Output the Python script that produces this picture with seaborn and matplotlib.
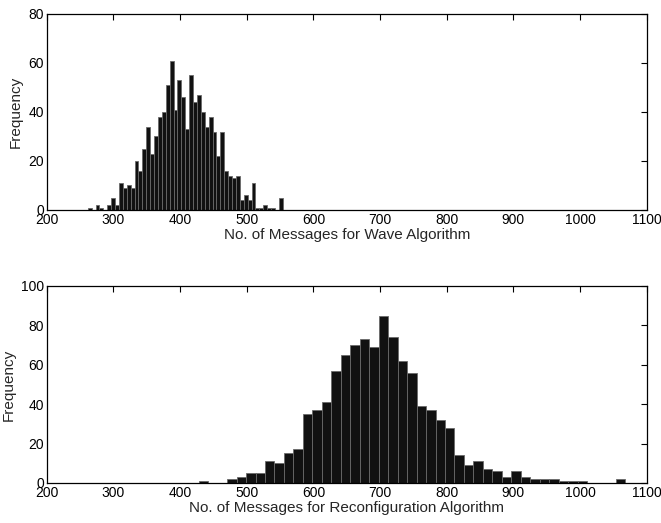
"""Histograms of message counts for the wave and reconfiguration algorithms."""

import matplotlib
matplotlib.use("Agg")
import matplotlib.pyplot as plt
import numpy as np
import pandas as pd
import seaborn as sns

# counts per bin
wave_counts = [
    1, 0, 2, 1, 0, 2, 5, 2, 11, 9,
    10, 9, 20, 16, 25, 34, 23, 30, 38, 40,
    51, 61, 41, 53, 46, 33, 55, 44, 47, 40,
    34, 38, 32, 22, 32, 16, 14, 13, 14, 4,
    6, 4, 11, 1, 1, 2, 1, 1, 0, 5,
]
wave_range = (261.5, 554.0)

reconf_counts = [
    1, 0, 0, 2, 3, 5, 5, 11, 10, 15,
    17, 35, 37, 41, 57, 65, 70, 73, 69, 85,
    74, 62, 56, 39, 37, 32, 28, 14, 9, 11,
    7, 6, 3, 6, 3, 2, 2, 2, 1, 1,
    1, 0, 0, 0, 2,
]
reconf_range = (427.9, 1067.4)

x_ticks = list(range(200, 1101, 100))
wave_yticks = [0, 20, 40, 60, 80]
reconf_yticks = [0, 20, 40, 60, 80, 100]

sns.set_style("white")
plt.rcParams["font.family"] = ["Liberation Sans", "DejaVu Sans"]


def draw_hist(ax, counts, value_range, yticks, xlabel):
    edges = np.linspace(value_range[0], value_range[1], len(counts) + 1)
    df = pd.DataFrame({
        "messages": (edges[:-1] + edges[1:]) / 2,
        "count": counts,
    })
    sns.histplot(
        data=df,
        x="messages",
        weights="count",
        bins=list(edges),
        color="#111111",
        edgecolor="#6a6a6a",
        linewidth=0.6,
        alpha=1,
        ax=ax,
    )
    ax.set_xlim(x_ticks[0], x_ticks[-1])
    ax.set_ylim(yticks[0], yticks[-1])
    ax.set_xticks(x_ticks)
    ax.set_yticks(yticks)
    ax.set_xlabel(xlabel, fontsize=11, labelpad=1)
    ax.set_ylabel("Frequency", fontsize=11, labelpad=4)
    ax.tick_params(
        direction="in", top=True, right=True, length=4.5, width=0.8,
        labelsize=10, pad=2, colors="black",
    )
    for spine in ax.spines.values():
        spine.set_visible(True)
        spine.set_color("black")
        spine.set_linewidth(0.9)


fig, (ax1, ax2) = plt.subplots(2, 1, figsize=(6.61, 5.23), dpi=100)
ax1.set_position([0.0707, 0.5985, 0.9077, 0.3748])
ax2.set_position([0.0707, 0.0765, 0.9077, 0.3767])

draw_hist(ax1, wave_counts, wave_range, wave_yticks,
          "No. of Messages for Wave Algorithm")
draw_hist(ax2, reconf_counts, reconf_range, reconf_yticks,
          "No. of Messages for Reconfiguration Algorithm")

fig.savefig("out.png", dpi=100)
plt.close(fig)
